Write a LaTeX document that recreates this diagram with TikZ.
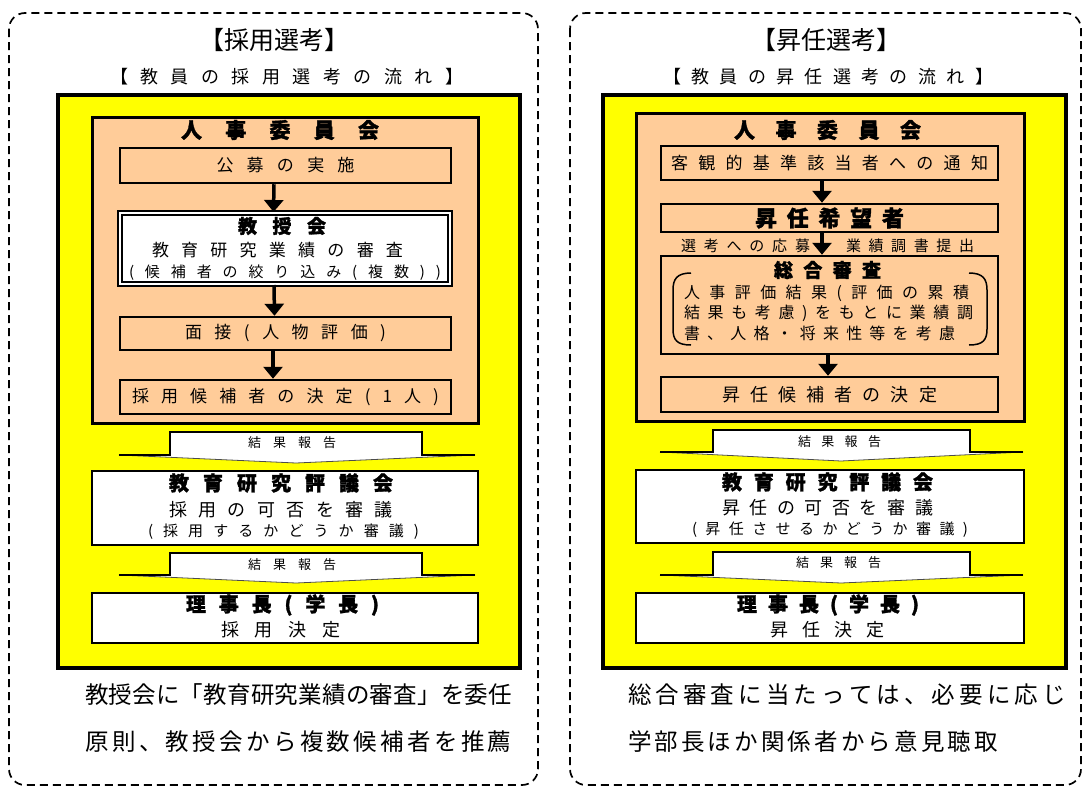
\documentclass[tikz,border=0pt]{standalone}
\usepackage{fontspec}
\setmainfont{Noto Sans CJK JP}[BoldFeatures={FakeBold=1.5}]
\usetikzlibrary{arrows.meta}
\definecolor{peach}{HTML}{FFCC99}
\definecolor{yel}{HTML}{FFFF00}
\makeatletter
\def\spr@end{SPREND}
\newcommand\spr[2]{\makebox[#1]{\spr@a#2\spr@end}}
\def\spr@a#1{#1\spr@b}
\def\spr@b#1{\ifx#1\spr@end\else\hfill#1\expandafter\spr@b\fi}
\makeatother
\newcommand\T[3]{{\fontsize{#1pt}{#1pt}\selectfont\spr{#2pt}{#3}}}
\newcommand\TB[3]{{\bfseries\fontsize{#1pt}{#1pt}\selectfont\spr{#2pt}{#3}}}
\tikzset{
  panel/.style={draw, dash pattern=on 8pt off 5pt, line width=1.7pt, rounded corners=16pt},
  ybox/.style={draw, fill=yel, line width=3.5pt},
  pbox/.style={draw, fill=peach, line width=3pt},
  sbox/.style={draw, fill=peach, line width=2.5pt, inner sep=0, anchor=center},
  wbox/.style={draw, fill=white, line width=2.5pt, inner sep=0, anchor=center},
  dbox/.style={draw, fill=white, line width=2pt, double=white, double distance=2pt, inner sep=0, anchor=center},
  lbl/.style={inner sep=0, anchor=center},
  flow/.style={line width=3.5pt, -{Triangle[width=19pt,length=12pt]}},
  repfill/.style={fill=white, draw=black!70, line width=0.8pt},
  reptop/.style={draw=black, line width=2pt},
  brk/.style={draw, line width=1.5pt}
}
\begin{document}
\begin{tikzpicture}[x=1pt,y=-1pt]
\useasboundingbox (0,0) rectangle (1083,798);
\fill[white] (0,0) rectangle (1083,798);

% ================= LEFT PANEL =================
\draw[panel] (9,13) rectangle (538,785);
\node[lbl] (titleL) at (274,40) {\T{25}{142}{【採用選考】}};
\node[lbl] (subL) at (286.5,77) {\T{18}{353}{【教員の採用選考の流れ】}};
\draw[ybox] (58,95) rectangle (520,668);
\draw[pbox] (92,117) rectangle (478,423);
\node[lbl] (jinjiL) at (280,130) {\TB{21}{198}{人事委員会}};
\node[sbox, minimum width=331pt, minimum height=35pt] (boshu) at (285.5,165.5) {\T{17}{138}{公募の実施}};
\node[dbox, minimum width=330pt, minimum height=71pt] (kyoju) at (285,248.5) {};
\node[lbl] (kyojuT) at (282,226) {\TB{19}{88}{教授会}};
\node[lbl] (kyojuA) at (277.5,250) {\T{17}{251}{教育研究業績の審査}};
\node[lbl] (kyojuB) at (285,273) {\T{15}{312}{(候補者の絞り込み(複数))}};
\node[sbox, minimum width=331pt, minimum height=33pt] (mensetsu) at (285.5,333.5) {\T{17}{201}{面接(人物評価)}};
\node[sbox, minimum width=331pt, minimum height=34pt] (kettei) at (285.5,397) {\T{17}{307}{採用候補者の決定(1人)}};
\draw[flow] ([xshift=-11.5pt]boshu.south) -- ([xshift=-11.5pt]kyoju.north);
\draw[flow] ([xshift=-11pt]kyoju.south) -- ([xshift=-11pt]mensetsu.north);
\draw[flow] ([xshift=-12.5pt]mensetsu.south) -- ([xshift=-12.5pt]kettei.north);

\draw[repfill] (170,455) -- (170,432) -- (422,432) -- (422,455) -- (475,455) -- (296,463) -- (119,455) -- cycle;
\draw[reptop] (119,455) -- (170,455) -- (170,432) -- (422,432) -- (422,455) -- (475,455);
\node[lbl] (repL1) at (292,443) {\T{13}{88}{結果報告}};

\node[wbox, minimum width=386pt, minimum height=74pt] (hyogiL) at (285,508) {};
\node[lbl] (hyogiLT) at (281,483) {\TB{20}{224}{教育研究評議会}};
\node[lbl] (hyogiLA) at (281,510) {\T{18}{224}{採用の可否を審議}};
\node[lbl] (hyogiLB) at (283.5,532) {\T{15}{271}{(採用するかどうか審議)}};

\draw[repfill] (170,575) -- (170,553) -- (422,553) -- (422,575) -- (475,575) -- (296,583) -- (119,575) -- cycle;
\draw[reptop] (119,575) -- (170,575) -- (170,553) -- (422,553) -- (422,575) -- (475,575);
\node[lbl] (repL2) at (292,565) {\T{13}{88}{結果報告}};

\node[wbox, minimum width=386pt, minimum height=50pt] (rijiL) at (285,618) {};
\node[lbl] (rijiLT) at (282.5,605) {\TB{20}{193}{理事長(学長)}};
\node[lbl] (rijiLA) at (281,630) {\T{18}{120}{採用決定}};

\node[lbl] (noteL1) at (298.5,695) {\T{23.5}{427}{教授会に「教育研究業績の審査」を委任}};
\node[lbl] (noteL2) at (298.5,742) {\T{23.5}{426}{原則、教授会から複数候補者を推薦}};

% ================= RIGHT PANEL =================
\draw[panel] (570,13) rectangle (1081,785);
\node[lbl] (titleR) at (826.5,40) {\T{25}{137}{【昇任選考】}};
\node[lbl] (subR) at (828,77) {\T{18}{330}{【教員の昇任選考の流れ】}};
\draw[ybox] (603,95) rectangle (1066,668);
\draw[pbox] (636,113) rectangle (1024,421);
\node[lbl] (jinjiR) at (827.5,130) {\TB{21}{187}{人事委員会}};
\node[sbox, minimum width=337pt, minimum height=34pt] (tsuchi) at (829.5,163) {\T{17}{317}{客観的基準該当者への通知}};
\node[sbox, minimum width=337pt, minimum height=28pt] (kibo) at (829.5,218) {\TB{22}{149}{昇任希望者}};
\node[lbl] (oubo) at (745.5,246) {\T{15}{129}{選考への応募}};
\node[lbl] (chosho) at (910,246) {\T{15}{128}{業績調書提出}};
\node[sbox, minimum width=337pt, minimum height=98pt] (sogo) at (829.5,305) {};
\node[lbl] (sogoT) at (827.5,270) {\TB{19}{107}{総合審査}};
\node[lbl] (sogoA) at (826.5,293) {\T{16}{285}{人事評価結果(評価の累積}};
\node[lbl] (sogoB) at (828.5,313) {\T{16}{289}{結果も考慮)をもとに業績調}};
\node[lbl] (sogoC) at (819.5,333) {\T{16}{271}{書、人格・将来性等を考慮}};
\draw[brk] (691,273) .. controls (677,273) and (673,279) .. (673,290) -- (673,329) .. controls (673,340) and (677,345) .. (691,345);
\draw[brk] (969,273) .. controls (983,273) and (987,279) .. (987,290) -- (987,329) .. controls (987,340) and (983,345) .. (969,345);
\node[sbox, minimum width=337pt, minimum height=35pt] (shokoho) at (829.5,394.5) {\T{18}{215}{昇任候補者の決定}};
\draw[flow] ([xshift=-7.5pt]tsuchi.south) -- ([xshift=-7.5pt]kibo.north);
\draw[flow] ([xshift=-7.5pt]kibo.south) -- ([xshift=-7.5pt]sogo.north);
\draw[flow] ([xshift=-1.5pt]sogo.south) -- ([xshift=-1.5pt]shokoho.north);

\draw[repfill] (713,452) -- (713,430) -- (970,430) -- (970,452) -- (1023,452) -- (841,461) -- (660,452) -- cycle;
\draw[reptop] (660,452) -- (713,452) -- (713,430) -- (970,430) -- (970,452) -- (1023,452);
\node[lbl] (repR1) at (839.5,442) {\T{13}{83}{結果報告}};

\node[wbox, minimum width=388pt, minimum height=73pt] (hyogiR) at (830,506.5) {};
\node[lbl] (hyogiRT) at (827.5,482) {\TB{20}{211}{教育研究評議会}};
\node[lbl] (hyogiRA) at (827.5,508) {\T{18}{211}{昇任の可否を審議}};
\node[lbl] (hyogiRB) at (830,530) {\T{15}{276}{(昇任させるかどうか審議)}};

\draw[repfill] (713,575) -- (713,552) -- (970,552) -- (970,575) -- (1023,575) -- (841,583) -- (660,575) -- cycle;
\draw[reptop] (660,575) -- (713,575) -- (713,552) -- (970,552) -- (970,575) -- (1023,575);
\node[lbl] (repR2) at (838.5,563) {\T{13}{85}{結果報告}};

\node[wbox, minimum width=388pt, minimum height=50pt] (rijiR) at (830,618) {};
\node[lbl] (rijiRT) at (828,605) {\TB{20}{182}{理事長(学長)}};
\node[lbl] (rijiRA) at (827.5,630) {\T{18}{115}{昇任決定}};

\node[lbl] (noteR1) at (847,695) {\T{23.5}{438}{総合審査に当たっては、必要に応じ}};
\node[lbl] (noteR2) at (813,742) {\T{23.5}{370}{学部長ほか関係者から意見聴取}};
\end{tikzpicture}
\end{document}
